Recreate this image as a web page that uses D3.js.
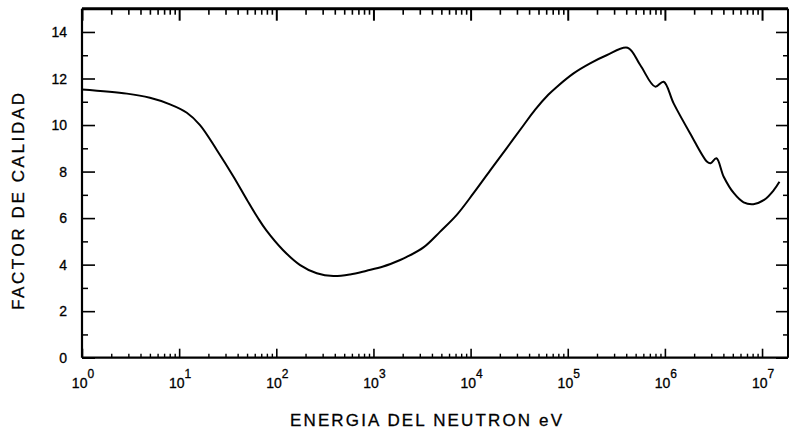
<!DOCTYPE html>
<html>
<head>
<meta charset="utf-8">
<script src="https://cdn.jsdelivr.net/npm/d3@7"></script>
<style>
  html, body { margin: 0; padding: 0; background: #fff; }
  svg { display: block; font-family: "Liberation Sans", Arial, Helvetica, sans-serif; }
</style>
</head>
<body>
<svg id="chart" width="790" height="431"></svg>
<script>
// Neutron energy (eV) and the matching quality factor
const energyEV = [
  1, 2.9, 5.0, 8.05, 12, 16.4, 24.4, 36.3, 50, 65, 79, 117, 176, 261, 387, 575, 851,
  1259, 1884, 2203, 3273, 4864, 7244, 10715, 15849, 23442, 35075, 46000, 63000, 77625,
  114800, 169800, 251200, 413000, 557000, 794000, 970000, 1.23e6, 1.82e6, 2.72e6,
  2.95e6, 3.39e6, 4.03e6, 5.13e6, 6.46e6, 8.13e6, 1.05e7, 1.32e7, 1.51e7
];
const qualityFactor = [
  11.53, 11.35, 11.17, 10.89, 10.53, 10.0, 8.93, 7.78, 6.78, 5.99, 5.47, 4.63, 3.98,
  3.63, 3.51, 3.58, 3.74, 3.92, 4.20, 4.33, 4.74, 5.42, 6.15, 7.07, 8.04, 9.0, 9.99,
  10.65, 11.3, 11.65, 12.22, 12.65, 13.0, 13.32, 12.58, 11.65, 11.86, 10.93, 9.64, 8.42,
  8.36, 8.57, 7.78, 7.07, 6.68, 6.60, 6.78, 7.2, 7.56
];

// Axis ticks
const decadeExponents = [0, 1, 2, 3, 4, 5, 6, 7];
const minorMultipliers = [2, 3, 4, 5, 6, 7, 8, 9];
const yMajorTicks = [0, 2, 4, 6, 8, 10, 12, 14];
const yMinorTicks = [1, 3, 5, 7, 9, 11, 13];

const xLabelText = "ENERGIA DEL NEUTRON eV";
const yLabelText = "FACTOR DE CALIDAD";

const xMin = 1, xMax = 1.85e7;
const yMin = 0, yMax = 15;

const svg = d3.select("#chart");
const plotLeft = 82, plotRight = 788, plotTop = 8.7, plotBottom = 357.7;

const x = d3.scaleLog().domain([xMin, xMax]).range([plotLeft, plotRight]);
const y = d3.scaleLinear().domain([yMin, yMax]).range([plotBottom, plotTop]);

const majorX = decadeExponents.map(e => Math.pow(10, e));
const minorX = [];
decadeExponents.forEach(e => minorMultipliers.forEach(m => {
  const v = m * Math.pow(10, e);
  if (v <= xMax) minorX.push(v);
}));

function styleAxis(g, w) {
  g.select(".domain").remove();
  g.selectAll(".tick line").attr("stroke", "#000").attr("stroke-width", w);
  g.selectAll(".tick text").remove();
}

// Bottom axis: ticks pointing up into the plot
svg.append("g").attr("transform", `translate(0,${plotBottom})`)
  .call(d3.axisBottom(x).tickValues(minorX).tickSize(-4).tickFormat(""))
  .call(g => styleAxis(g, 1.4));
svg.append("g").attr("transform", `translate(0,${plotBottom})`)
  .call(d3.axisBottom(x).tickValues(majorX).tickSize(-9).tickFormat(""))
  .call(g => styleAxis(g, 1.6));

// Top axis: ticks pointing down
svg.append("g").attr("transform", `translate(0,${plotTop})`)
  .call(d3.axisTop(x).tickValues(minorX).tickSize(-6).tickFormat(""))
  .call(g => styleAxis(g, 1.6));
svg.append("g").attr("transform", `translate(0,${plotTop})`)
  .call(d3.axisTop(x).tickValues(majorX).tickSize(-12).tickFormat(""))
  .call(g => styleAxis(g, 2));

// Left axis
svg.append("g").attr("transform", `translate(${plotLeft},0)`)
  .call(d3.axisLeft(y).tickValues(yMinorTicks).tickSize(-6).tickFormat(""))
  .call(g => styleAxis(g, 1.5));
svg.append("g").attr("transform", `translate(${plotLeft},0)`)
  .call(d3.axisLeft(y).tickValues(yMajorTicks).tickSize(-13).tickFormat(""))
  .call(g => styleAxis(g, 1.6));

// Right axis
svg.append("g").attr("transform", `translate(${plotRight},0)`)
  .call(d3.axisRight(y).tickValues(yMinorTicks).tickSize(-5).tickFormat(""))
  .call(g => styleAxis(g, 1.5));
svg.append("g").attr("transform", `translate(${plotRight},0)`)
  .call(d3.axisRight(y).tickValues(yMajorTicks).tickSize(-12).tickFormat(""))
  .call(g => styleAxis(g, 1.6));

// Frame
svg.append("line").attr("x1", plotLeft).attr("x2", plotRight).attr("y1", plotTop).attr("y2", plotTop)
  .attr("stroke", "#000").attr("stroke-width", 3);
svg.append("line").attr("x1", plotLeft).attr("x2", plotRight).attr("y1", plotBottom).attr("y2", plotBottom)
  .attr("stroke", "#000").attr("stroke-width", 2.2);
svg.append("line").attr("x1", plotLeft).attr("x2", plotLeft).attr("y1", plotTop).attr("y2", plotBottom)
  .attr("stroke", "#000").attr("stroke-width", 2.2);
svg.append("line").attr("x1", plotRight).attr("x2", plotRight).attr("y1", plotTop).attr("y2", plotBottom)
  .attr("stroke", "#000").attr("stroke-width", 2);

// Y tick labels
svg.append("g").selectAll("text").data(yMajorTicks).join("text")
  .attr("x", 67).attr("y", d => y(d)).attr("dy", "0.36em")
  .attr("text-anchor", "end").attr("font-size", 14).attr("fill", "#000")
  .attr("stroke", "#000").attr("stroke-width", 0.3)
  .text(d => d);

// X tick labels as powers of ten
const xl = svg.append("g").selectAll("text").data(decadeExponents).join("text")
  .attr("x", d => x(Math.pow(10, d)) + 1).attr("y", 388)
  .attr("text-anchor", "middle").attr("font-size", 14).attr("fill", "#000")
  .attr("stroke", "#000").attr("stroke-width", 0.3);
xl.append("tspan").text("10");
xl.append("tspan").attr("dy", -10).attr("font-size", 12).text(d => d);

// Quality factor curve
const line = d3.line()
  .x((d, i) => x(energyEV[i]))
  .y(d => y(d))
  .curve(d3.curveCatmullRom.alpha(0.5));
svg.append("path").datum(qualityFactor)
  .attr("d", line).attr("fill", "none")
  .attr("stroke", "#000").attr("stroke-width", 2).attr("stroke-linejoin", "round");

// Axis titles
svg.append("text").attr("x", 426).attr("y", 426).attr("text-anchor", "middle")
  .attr("font-size", 17).attr("textLength", 272).attr("lengthAdjust", "spacing")
  .attr("fill", "#000").attr("stroke", "#000").attr("stroke-width", 0.3)
  .text(xLabelText);
svg.append("text").attr("transform", "translate(24,201.5) rotate(-90)")
  .attr("text-anchor", "middle").attr("font-size", 17)
  .attr("textLength", 217).attr("lengthAdjust", "spacing")
  .attr("fill", "#000").attr("stroke", "#000").attr("stroke-width", 0.3)
  .text(yLabelText);
</script>
</body>
</html>
